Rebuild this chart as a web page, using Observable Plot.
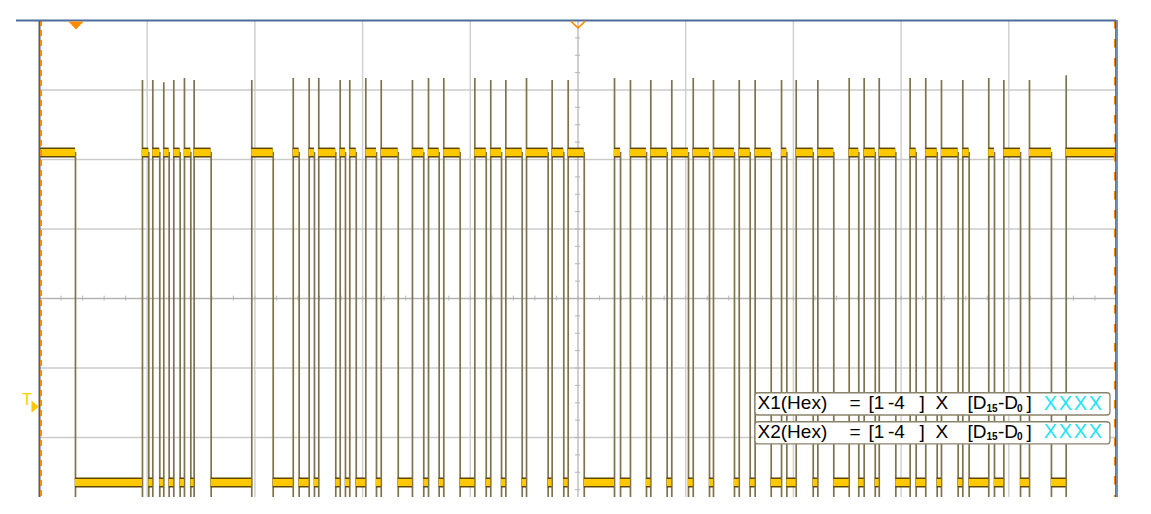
<!DOCTYPE html>
<html><head><meta charset="utf-8">
<script src="https://cdn.jsdelivr.net/npm/d3@7"></script>
<script src="https://cdn.jsdelivr.net/npm/@observablehq/plot@0.6"></script>
<style>html,body{margin:0;padding:0;background:#fff;overflow:hidden}</style>
</head><body><div id="chart"></div>
<script>
// Time axis in horizontal divisions (0..10), voltage in vertical divisions.
const risingEdges = [0.956,1.052,1.154,1.247,1.346,1.436,1.971,2.356,2.504,2.593,2.792,2.881,3.030,3.173,3.463,3.612,3.754,4.042,4.190,4.330,4.522,4.760,4.909,5.339,5.487,5.676,5.871,6.070,6.258,6.497,6.645,6.890,7.026,7.227,7.518,7.657,7.797,8.084,8.229,8.375,8.573,8.814,8.954,9.192,9.533];
const fallingEdges = [0.334,1.015,1.117,1.204,1.306,1.405,1.594,2.170,2.411,2.553,2.751,2.841,2.941,3.129,3.331,3.568,3.711,3.906,4.148,4.290,4.482,4.723,4.868,5.058,5.395,5.636,5.828,6.026,6.221,6.453,6.599,6.794,6.939,7.184,7.375,7.607,7.760,7.951,8.140,8.335,8.530,8.632,8.867,9.109,9.396];
const risingPeaks = [3.137,3.137,3.104,3.137,3.165,3.137,3.137,3.165,3.165,3.165,3.137,3.137,3.165,3.137,3.137,3.165,3.165,3.165,3.137,3.137,3.165,3.137,3.137,3.165,3.137,3.137,3.137,3.165,3.137,3.137,3.137,3.137,3.137,3.137,3.165,3.165,3.165,3.165,3.165,3.137,3.137,3.165,3.137,3.137,3.204];
const highLevel = 2.10;
const lowLevel = -2.647;
const triggerLevel = -1.554;
const timeRefMarker = 0.339;
const labelNames = ["X1(Hex)", "X2(Hex)"];
const labelRange = ["[1", "-4", "]"];
const labelBits = ["[D", "15", "-D", "0", "]"];
const labelValue = ["X", "X", "X", "X"];

const T0 = 0, T1 = 10, yMin = -2.863, yMax = 4;
const highSegs = [{x1: T0, x2: fallingEdges[0]}];
risingEdges.forEach((r, i) => highSegs.push({x1: r, x2: i + 1 < fallingEdges.length ? fallingEdges[i + 1] : T1}));
const lowSegs = fallingEdges.map((f, i) => ({x1: f, x2: risingEdges[i]}));
const rising = risingEdges.map((t, i) => ({t, peak: risingPeaks[i]}));

const traceColor = "#7d7350";
const bandDark = "#5e4800";
const bandYellow = "#ffc800";
const orange = "#ff8a00";

const downTri = {draw(c) { c.moveTo(-7.6, 1); c.lineTo(7.6, 1); c.lineTo(0, 9); c.closePath(); }};
const vMark = {draw(c) { c.moveTo(-7.5, 0.5); c.lineTo(0, 7.3); c.lineTo(7.5, 0.5); }};
const rightTri = {draw(c) { c.moveTo(-8, -6); c.lineTo(-0.7, 0.3); c.lineTo(-8, 6.3); c.closePath(); }};

const rows = [{name: labelNames[0], y: -1.509, y1: -1.363, y2: -1.683}, {name: labelNames[1], y: -1.918, y1: -1.780, y2: -2.100}];
const font = "Liberation Sans";
const FS = 19, SUB = 10;
const pieceX = {range: [7.697, 7.878, 8.171], bits: [8.617, 8.793, 8.900, 9.077, 9.165], value: [9.325, 9.464, 9.603, 9.742]};
const textMarks = [];
rows.forEach(r => {
  textMarks.push(Plot.text([r], {x: 6.667, y: "y", text: "name", textAnchor: "start", fontSize: FS, fontFamily: font, fill: "#000"}));
  textMarks.push(Plot.text([r], {x: 7.521, y: "y", text: () => "=", textAnchor: "start", fontSize: FS, fontFamily: font, fill: "#000"}));
  labelRange.forEach((s, i) => textMarks.push(Plot.text([r], {x: pieceX.range[i], y: "y", text: () => s, textAnchor: "start", fontSize: FS, fontFamily: font, fill: "#000"})));
  textMarks.push(Plot.text([r], {x: 8.319, y: "y", text: () => "X", textAnchor: "start", fontSize: FS, fontFamily: font, fill: "#000"}));
  labelBits.forEach((s, i) => {
    const sub = i === 1 || i === 3;
    textMarks.push(Plot.text([r], {x: pieceX.bits[i], y: "y", dy: sub ? 5.2 : 0, text: () => s, textAnchor: "start", fontSize: sub ? SUB : FS, fontWeight: sub ? "bold" : "normal", fontFamily: font, fill: "#000"}));
  });
  labelValue.forEach((s, i) => textMarks.push(Plot.text([r], {x: pieceX.value[i], y: "y", text: () => s, textAnchor: "start", fontSize: 20, fontFamily: font, fill: "#1fe4f4"})));
});

const chart = Plot.plot({
  width: 1151, height: 514,
  marginLeft: 39, marginRight: 35, marginTop: 20, marginBottom: 17,
  x: {domain: [T0, T1], axis: null},
  y: {domain: [yMin, yMax], axis: null},
  style: {background: "white", overflow: "visible"},
  marks: [
    Plot.ruleX(d3.range(1, 10).filter(d => d !== 5), {stroke: "#d0d0d0", strokeWidth: 1.5}),
    Plot.ruleY(d3.range(-2, 4).filter(d => d !== 0), {stroke: "#cbcbcb", strokeWidth: 1.5}),
    Plot.ruleX([5], {stroke: "#c4c4c4", strokeWidth: 1.6}),
    Plot.ruleY([0], {stroke: "#b4b4b4", strokeWidth: 1.3}),
    Plot.ruleX(d3.range(0.2, 10, 0.2), {y1: -0.034, y2: 0.034, stroke: "#b4b4b4", strokeWidth: 1}),
    Plot.ruleY(d3.range(-2.75, 4, 0.25), {x1: 5 - 0.024, x2: 5 + 0.024, stroke: "#b4b4b4", strokeWidth: 1}),
    // trace transitions
    Plot.ruleX(fallingEdges, {x: d => d, y1: yMin, y2: highLevel, stroke: traceColor, strokeWidth: 1.7}),
    Plot.ruleX(rising, {x: "t", y1: yMin, y2: "peak", stroke: traceColor, strokeWidth: 1.7}),
    // trace levels
    Plot.ruleY(highSegs, {y: highLevel, x1: "x1", x2: "x2", stroke: bandDark, strokeWidth: 10}),
    Plot.ruleY(highSegs, {y: highLevel, x1: "x1", x2: "x2", stroke: bandYellow, strokeWidth: 7}),
    Plot.ruleY(lowSegs, {y: lowLevel, x1: "x1", x2: "x2", stroke: bandDark, strokeWidth: 10}),
    Plot.ruleY(lowSegs, {y: lowLevel, x1: "x1", x2: "x2", stroke: bandYellow, strokeWidth: 7}),
    // borders
    Plot.ruleX([T0], {stroke: "#5c5c5c", strokeWidth: 2}),
    Plot.ruleX([T0], {dx: 1.5, stroke: orange, strokeWidth: 2, strokeDasharray: "6,4"}),
    Plot.ruleX([T1], {dx: -1.6, stroke: orange, strokeWidth: 2, strokeDasharray: "8.5,10.5"}),
    Plot.ruleX([T1], {dx: -0.6, stroke: "#222", strokeWidth: 1}),
    Plot.ruleX([T1], {dx: 0.6, y2: yMax, y1: yMin, stroke: "#4a78b8", strokeWidth: 1.4}),
    Plot.ruleY([yMax], {x1: -0.2136, x2: T1, stroke: "#4b6e9e", strokeWidth: 2}),
    // markers
    Plot.dot([timeRefMarker], {x: d => d, y: yMax, r: 5, symbol: downTri, fill: orange, stroke: "none"}),
    Plot.dot([5], {x: d => d, y: yMax, r: 5, symbol: vMark, fill: "none", stroke: orange, strokeWidth: 1.6}),
    Plot.text(["T"], {x: T0, y: triggerLevel, dx: -12.3, dy: -6.5, text: d => d, fontSize: 16, fontFamily: font, fill: "#ffcc00"}),
    Plot.dot([triggerLevel], {x: T0, y: d => d, r: 5, symbol: rightTri, fill: "#ffc800", stroke: "none"}),
    // labels
    Plot.rect(rows, {x1: 6.648, x2: 9.944, y1: "y1", y2: "y2", fill: "white", stroke: "#8a836b", strokeWidth: 1.3, rx: 3}),
    ...textMarks
  ]
});
document.getElementById("chart").append(chart);
</script>
</body></html>
